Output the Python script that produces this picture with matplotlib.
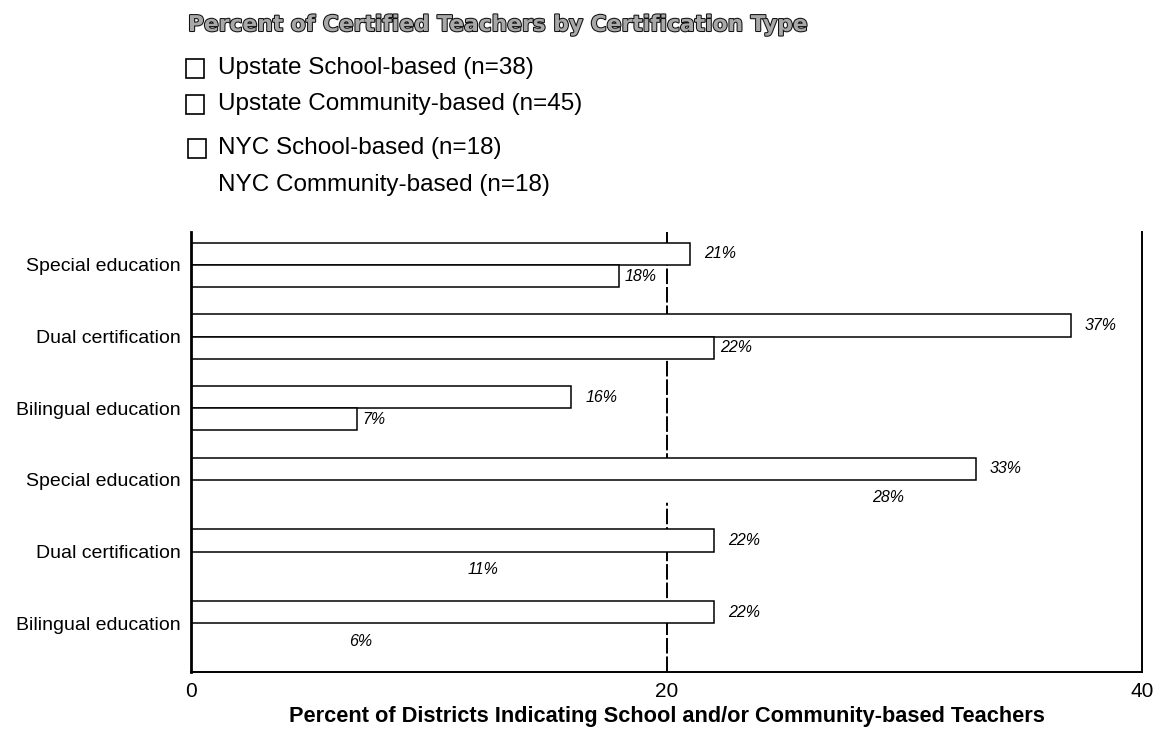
import matplotlib
matplotlib.use("Agg")
import matplotlib.pyplot as plt
import matplotlib.patheffects as pe
from matplotlib.patches import Rectangle
import numpy as np

# ---- data ----
categories = ["Special education", "Dual certification", "Bilingual education",
              "Special education", "Dual certification", "Bilingual education"]
region = ["Upstate", "Upstate", "Upstate", "NYC", "NYC", "NYC"]
school_based = [21, 37, 16, 33, 22, 22]
community_based = [18, 22, 7, 28, 11, 6]
legend_labels = ["Upstate School-based (n=38)", "Upstate Community-based (n=45)",
                 "NYC School-based (n=18)", "NYC Community-based (n=18)"]
x_ticks = [0, 20, 40]
title = "Percent of Certified Teachers by Certification Type"
x_label = "Percent of Districts Indicating School and/or Community-based Teachers"

plt.rcParams["font.family"] = ["Liberation Sans", "DejaVu Sans"]

fig = plt.figure(figsize=(11.68, 7.34), dpi=100)
ax = fig.add_axes([0.1633, 0.0845, 0.978 - 0.1633, 0.684 - 0.0845])

y = np.arange(len(categories))
h = 0.31

# reference gridline at 20 (behind bars)
ax.axvline(20, color="black", lw=1.4, ls=(0, (8, 1.5)), zorder=0)

for i in range(len(categories)):
    ax.barh(y[i] - h / 2, school_based[i], height=h, color="white",
            edgecolor="black", lw=1.1, zorder=2)
    ec2 = "black" if region[i] == "Upstate" else "white"
    ax.barh(y[i] + h / 2, community_based[i], height=h, color="white",
            edgecolor=ec2, lw=1.1, zorder=2 if region[i] == "Upstate" else 1.5)
    ax.annotate(f"{school_based[i]}%", (school_based[i], y[i] - h / 2),
                xytext=(10, 0), textcoords="offset points", va="center",
                ha="left", fontsize=11.5, style="italic")
    if region[i] == "Upstate":
        off = (4, 0)
    else:
        off = (11, -5)
    ax.annotate(f"{community_based[i]}%", (community_based[i], y[i] + h / 2),
                xytext=off, textcoords="offset points", va="center",
                ha="left", fontsize=11.5, style="italic")

ax.set_xlim(0, 40)
ax.set_ylim(5.68, -0.46)
ax.set_xticks(x_ticks)
ax.set_xticklabels([str(t) for t in x_ticks], fontsize=15)
ax.set_yticks(y)
ax.set_yticklabels(categories, fontsize=14)
ax.tick_params(axis="both", length=0)
ax.tick_params(axis="y", pad=7)
ax.tick_params(axis="x", pad=7)

ax.spines["top"].set_visible(False)
ax.spines["left"].set_linewidth(2.0)
ax.spines["bottom"].set_linewidth(1.4)
ax.spines["right"].set_linewidth(1.4)

ax.set_xlabel(x_label, fontsize=15.7, fontweight="bold", labelpad=4)

# title with outlined look
fig.text(188 / 1168, 1 - 25 / 734, title, fontsize=15.7, fontweight="bold",
         family=["DejaVu Sans"], color="#a8a8a8", va="center", ha="left",
         path_effects=[pe.withStroke(linewidth=1.5, foreground="#111111")])

# legend
leg_y = [68, 104, 148, 185]
box_x = [186, 186, 188, None]
for lab, yy, bx in zip(legend_labels, leg_y, box_x):
    if bx is not None:
        fig.patches.append(Rectangle((bx / 1168, 1 - (yy + 9.5) / 734),
                                     18 / 1168, 18 / 734, transform=fig.transFigure,
                                     facecolor="white", edgecolor="black", lw=1.2))
    fig.text(218 / 1168, 1 - yy / 734, lab, fontsize=17.5, va="center", ha="left")

fig.savefig("out.png", dpi=100)
